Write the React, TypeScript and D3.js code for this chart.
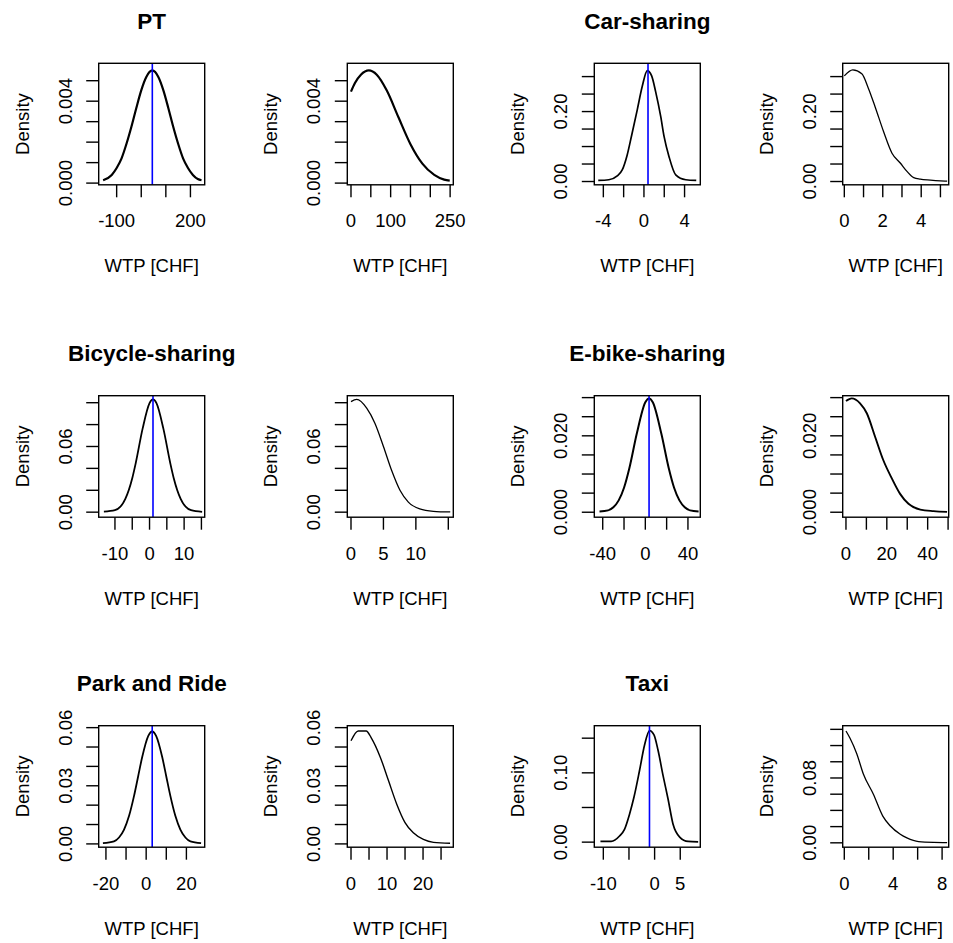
import React from "react";
import * as d3 from "d3";

// ---------- titles ----------
const modeTitles = ["PT", "Car-sharing", "Bicycle-sharing", "E-bike-sharing", "Park and Ride", "Taxi"];
const xAxisTitle = "WTP [CHF]";
const yAxisTitle = "Density";

// ---------- PT ----------
const ptNormX = [-155, -120, -100, -80, -60, -40, -20, 0, 20, 45, 70, 90, 110, 130, 150, 170, 190, 210, 230, 245];
const ptNormY = [0.00014, 0.0004, 0.00074, 0.00121, 0.00192, 0.00275, 0.00367, 0.00453, 0.00517, 0.0055, 0.00517, 0.00453, 0.00367, 0.00275, 0.00192, 0.00121, 0.00074, 0.0004, 0.0002, 0.00014];
const ptPosX = [0, 10, 25, 45, 65, 90, 120, 150, 180, 210, 235, 249];
const ptPosY = [0.00447, 0.00489, 0.00529, 0.0055, 0.00529, 0.00453, 0.0032, 0.0019, 0.00095, 0.0004, 0.00017, 0.00012];
const ptMean = 45;

// ---------- Car-sharing ----------
const carNormX = [-4.5, -3.46, -2.63, -2.14, -1.65, -1.22, -0.66, -0.16, 0.33, 0.76, 1.15, 1.65, 1.98, 2.47, 3.13, 4.12, 5.15];
const carNormY = [0.003, 0.005, 0.016, 0.033, 0.076, 0.131, 0.205, 0.273, 0.317, 0.302, 0.257, 0.186, 0.129, 0.071, 0.019, 0.005, 0.003];
const carPosX = [0, 0.44, 0.91, 1.25, 1.6, 2.04, 2.48, 2.91, 3.26, 3.61, 3.95, 4.48, 5.0, 5.35];
const carPosY = [0.302, 0.319, 0.308, 0.267, 0.214, 0.143, 0.081, 0.053, 0.029, 0.011, 0.0066, 0.004, 0.002, 0.001];
const carMean = 0.4;

// ---------- Bicycle-sharing ----------
const bikeNormX = [-13.2, -10, -7, -5, -4, -2, 0, 1, 2, 4, 6, 7, 9, 12, 15.2];
const bikeNormY = [0.0005, 0.0018, 0.0121, 0.031, 0.0447, 0.0763, 0.0996, 0.103, 0.0996, 0.0763, 0.0447, 0.031, 0.0121, 0.0018, 0.0003];
const bikePosX = [0, 0.88, 2.42, 3.7, 5.0, 6.27, 7.55, 8.84, 10.6, 12.7, 15.3];
const bikePosY = [0.101, 0.103, 0.095, 0.081, 0.06, 0.038, 0.02, 0.0092, 0.003, 0.0008, 0.0002];
const bikeMean = 1.0;

// ---------- E-bike-sharing ----------
const ebikeNormX = [-43, -35, -30, -25, -20, -15, -8, 0, 3.5, 7, 15, 22, 27, 32, 37, 42, 50];
const ebikeNormY = [0.0002, 0.00048, 0.0013, 0.0031, 0.0064, 0.0115, 0.0206, 0.0288, 0.0298, 0.0288, 0.0206, 0.0115, 0.0064, 0.0031, 0.0013, 0.00048, 0.0002];
const ebikePosX = [0, 2.8, 6.9, 10.2, 14.3, 18.3, 22.5, 26.5, 30.6, 36.4, 42.9, 49.5];
const ebikePosY = [0.0291, 0.0298, 0.0285, 0.0259, 0.0197, 0.0136, 0.0088, 0.0048, 0.0022, 0.0007, 0.0003, 0.0001];
const ebikeMean = 3.5;

// ---------- Park and Ride ----------
const prNormX = [-21.5, -16, -13.5, -11, -8.5, -6, -4, -2, 1, 3, 5, 8, 10, 12, 14.5, 17, 19.5, 22, 27.3];
const prNormY = [0.0004, 0.0013, 0.0033, 0.0074, 0.0145, 0.0249, 0.0348, 0.0447, 0.0556, 0.058, 0.0556, 0.0447, 0.0348, 0.0249, 0.0145, 0.0074, 0.0033, 0.0013, 0.0004];
const prPosX = [0, 2.0, 4.2, 5.7, 8.1, 10.4, 12.7, 15, 17.3, 20.1, 22.9, 27.5];
const prPosY = [0.0532, 0.0583, 0.0583, 0.0545, 0.0449, 0.0327, 0.0205, 0.011, 0.0057, 0.0023, 0.0008, 0.0003];
const prMean = 3;

// ---------- Taxi ----------
const taxiNormX = [-10.56, -8.47, -6.84, -5.87, -4.89, -4.03, -2.93, -1.96, -0.98, -0.12, 0.66, 1.64, 2.62, 3.6, 4.89, 6.53, 8.49];
const taxiNormY = [0.001, 0.001, 0.0088, 0.0185, 0.0404, 0.0647, 0.1037, 0.1402, 0.161, 0.1548, 0.1329, 0.0964, 0.0623, 0.0258, 0.0073, 0.001, 0.0005];
const taxiPosX = [0.14, 0.47, 1.02, 1.56, 2.38, 3.15, 3.75, 4.58, 5.12, 6.08, 7.3, 8.41];
const taxiPosY = [0.138, 0.129, 0.11, 0.085, 0.06, 0.033, 0.021, 0.0105, 0.006, 0.0014, 0.0005, 0.0003];
const taxiMean = -1.0;

// ---------- axis ranges & ticks ----------
const ptYTicks = [0, 0.001, 0.002, 0.003, 0.004, 0.005];
const ptYLabels = ["0.000", "", "", "", "0.004", ""];
const ptNormXTicks = [-100, 0, 100, 200];
const ptNormXLabels = ["-100", "", "", "200"];
const ptPosXTicks = [0, 50, 100, 150, 200, 250];
const ptPosXLabels = ["0", "", "100", "", "", "250"];

const carYTicks = [0, 0.05, 0.1, 0.15, 0.2, 0.25, 0.3];
const carYLabels = ["0.00", "", "", "", "0.20", "", ""];
const carNormXTicks = [-4, -2, 0, 2, 4];
const carNormXLabels = ["-4", "", "0", "", "4"];
const carPosXTicks = [0, 1, 2, 3, 4, 5];
const carPosXLabels = ["0", "", "2", "", "4", ""];

const bikeYTicks = [0, 0.02, 0.04, 0.06, 0.08, 0.1];
const bikeYLabels = ["0.00", "", "", "0.06", "", ""];
const bikeNormXTicks = [-10, -5, 0, 5, 10, 15];
const bikeNormXLabels = ["-10", "", "0", "", "10", ""];
const bikePosXTicks = [0, 5, 10, 15];
const bikePosXLabels = ["0", "5", "10", ""];

const ebikeYTicks = [0, 0.005, 0.01, 0.015, 0.02, 0.025, 0.03];
const ebikeYLabels = ["0.000", "", "", "", "0.020", "", ""];
const ebikeNormXTicks = [-40, -20, 0, 20, 40];
const ebikeNormXLabels = ["-40", "", "0", "", "40"];
const ebikePosXTicks = [0, 10, 20, 30, 40, 50];
const ebikePosXLabels = ["0", "", "20", "", "40", ""];

const prYTicks = [0, 0.01, 0.02, 0.03, 0.04, 0.05, 0.06];
const prYLabels = ["0.00", "", "", "0.03", "", "", "0.06"];
const prNormXTicks = [-20, -10, 0, 10, 20];
const prNormXLabels = ["-20", "", "0", "", "20"];
const prPosXTicks = [0, 5, 10, 15, 20, 25];
const prPosXLabels = ["0", "", "10", "", "20", ""];

const taxiNormYTicks = [0, 0.05, 0.1, 0.15];
const taxiNormYLabels = ["0.00", "", "0.10", ""];
const taxiPosYTicks = [0, 0.02, 0.04, 0.06, 0.08, 0.1, 0.12, 0.14];
const taxiPosYLabels = ["0.00", "", "", "", "0.08", "", "", ""];
const taxiNormXTicks = [-10, -5, 0, 5];
const taxiNormXLabels = ["-10", "", "0", "5"];
const taxiPosXTicks = [0, 2, 4, 6, 8];
const taxiPosXLabels = ["0", "", "4", "", "8"];

// plotted ranges (R usr)
const ptNormXRange = [-173, 258];
const ptPosXRange = [-9.3, 258];
const ptYRange = [-0.000083, 0.00585];
const carNormXRange = [-4.89, 5.55];
const carPosXRange = [-0.084, 5.43];
const carYRange = [-0.0094, 0.338];
const bikeNormXRange = [-14.7, 15.95];
const bikePosXRange = [-0.57, 15.77];
const bikeYRange = [-0.0046, 0.1064];
const ebikeNormXRange = [-47.9, 51.6];
const ebikePosXRange = [-1.6, 50.3];
const ebikeYRange = [-0.0013, 0.0305];
const prNormXRange = [-23.6, 29.1];
const prPosXRange = [-1.03, 28.4];
const prYRange = [-0.0017, 0.061];
const taxiNormXRange = [-11.76, 8.91];
const taxiPosXRange = [-0.13, 8.54];
const taxiNormYRange = [-0.0073, 0.168];
const taxiPosYRange = [-0.0054, 0.1445];

type PanelSpec = {
  xs: number[]; ys: number[];
  xRange: number[]; yRange: number[];
  xTicks: number[]; xLabels: string[];
  yTicks: number[]; yLabels: string[];
  mean?: number; title?: string; lw: number;
};

const panels: PanelSpec[] = [
  { xs: ptNormX, ys: ptNormY, xRange: ptNormXRange, yRange: ptYRange, xTicks: ptNormXTicks, xLabels: ptNormXLabels, yTicks: ptYTicks, yLabels: ptYLabels, mean: ptMean, title: modeTitles[0], lw: 2.2 },
  { xs: ptPosX, ys: ptPosY, xRange: ptPosXRange, yRange: ptYRange, xTicks: ptPosXTicks, xLabels: ptPosXLabels, yTicks: ptYTicks, yLabels: ptYLabels, lw: 2.2 },
  { xs: carNormX, ys: carNormY, xRange: carNormXRange, yRange: carYRange, xTicks: carNormXTicks, xLabels: carNormXLabels, yTicks: carYTicks, yLabels: carYLabels, mean: carMean, title: modeTitles[1], lw: 1.7 },
  { xs: carPosX, ys: carPosY, xRange: carPosXRange, yRange: carYRange, xTicks: carPosXTicks, xLabels: carPosXLabels, yTicks: carYTicks, yLabels: carYLabels, lw: 1.3 },
  { xs: bikeNormX, ys: bikeNormY, xRange: bikeNormXRange, yRange: bikeYRange, xTicks: bikeNormXTicks, xLabels: bikeNormXLabels, yTicks: bikeYTicks, yLabels: bikeYLabels, mean: bikeMean, title: modeTitles[2], lw: 1.8 },
  { xs: bikePosX, ys: bikePosY, xRange: bikePosXRange, yRange: bikeYRange, xTicks: bikePosXTicks, xLabels: bikePosXLabels, yTicks: bikeYTicks, yLabels: bikeYLabels, lw: 1.3 },
  { xs: ebikeNormX, ys: ebikeNormY, xRange: ebikeNormXRange, yRange: ebikeYRange, xTicks: ebikeNormXTicks, xLabels: ebikeNormXLabels, yTicks: ebikeYTicks, yLabels: ebikeYLabels, mean: ebikeMean, title: modeTitles[3], lw: 2.0 },
  { xs: ebikePosX, ys: ebikePosY, xRange: ebikePosXRange, yRange: ebikeYRange, xTicks: ebikePosXTicks, xLabels: ebikePosXLabels, yTicks: ebikeYTicks, yLabels: ebikeYLabels, lw: 1.9 },
  { xs: prNormX, ys: prNormY, xRange: prNormXRange, yRange: prYRange, xTicks: prNormXTicks, xLabels: prNormXLabels, yTicks: prYTicks, yLabels: prYLabels, mean: prMean, title: modeTitles[4], lw: 1.8 },
  { xs: prPosX, ys: prPosY, xRange: prPosXRange, yRange: prYRange, xTicks: prPosXTicks, xLabels: prPosXLabels, yTicks: prYTicks, yLabels: prYLabels, lw: 1.4 },
  { xs: taxiNormX, ys: taxiNormY, xRange: taxiNormXRange, yRange: taxiNormYRange, xTicks: taxiNormXTicks, xLabels: taxiNormXLabels, yTicks: taxiNormYTicks, yLabels: taxiNormYLabels, mean: taxiMean, title: modeTitles[5], lw: 1.7 },
  { xs: taxiPosX, ys: taxiPosY, xRange: taxiPosXRange, yRange: taxiPosYRange, xTicks: taxiPosXTicks, xLabels: taxiPosXLabels, yTicks: taxiPosYTicks, yLabels: taxiPosYLabels, lw: 1.3 },
];

// ---------- layout ----------
const W = 953, H = 943;
const colLeft = [98.7, 347.3, 594.3, 842.7];
const rowTop = [63.3, 395.7, 725.7];
const boxW = 106;
const boxH = 121.5;
const FONT = "'Liberation Sans', Arial, sans-serif";
const fs = 18.5;
const titleFs = 22.5;
const tickLen = 12.5;

function Panel({ p, left, top }: { p: PanelSpec; left: number; top: number }) {
  const x = d3.scaleLinear().domain(p.xRange).range([left, left + boxW]);
  const y = d3.scaleLinear().domain(p.yRange).range([top + boxH, top]);
  const pts: [number, number][] = p.xs.map((v, i) => [v, p.ys[i]]);
  const line = d3
    .line<[number, number]>()
    .x((d) => x(d[0]))
    .y((d) => y(d[1]))
    .curve(d3.curveMonotoneX);
  const bottom = top + boxH;
  const cx = left + boxW / 2;
  const cy = top + boxH / 2;
  const clipId = `clip-${Math.round(left)}-${Math.round(top)}`;
  return (
    <g>
      <defs>
        <clipPath id={clipId}>
          <rect x={left} y={top} width={boxW} height={boxH} />
        </clipPath>
      </defs>
      {p.title && (
        <text x={cx} y={top - 34.5} textAnchor="middle" fontSize={titleFs} fontWeight="bold" fontFamily={FONT} fill="#000">
          {p.title}
        </text>
      )}
      <g clipPath={`url(#${clipId})`}>
        <path d={line(pts) || ""} fill="none" stroke="#000" strokeWidth={p.lw} strokeLinejoin="round" />
        {p.mean !== undefined && (
          <line x1={x(p.mean)} x2={x(p.mean)} y1={top} y2={bottom} stroke="#0000ff" strokeWidth={1.6} />
        )}
      </g>
      <rect x={left} y={top} width={boxW} height={boxH} fill="none" stroke="#000" strokeWidth={1.4} />
      {p.xTicks.map((t, i) => (
        <g key={"xt" + i}>
          <line x1={x(t)} x2={x(t)} y1={bottom} y2={bottom + tickLen} stroke="#000" strokeWidth={1.4} />
          {p.xLabels[i] && (
            <text x={x(t)} y={bottom + 42.5} textAnchor="middle" fontSize={fs} fontFamily={FONT} fill="#000">
              {p.xLabels[i]}
            </text>
          )}
        </g>
      ))}
      {p.yTicks.map((t, i) => (
        <g key={"yt" + i}>
          <line x1={left - tickLen} x2={left} y1={y(t)} y2={y(t)} stroke="#000" strokeWidth={1.4} />
          {p.yLabels[i] && (
            <text
              transform={`translate(${left - 27},${y(t)}) rotate(-90)`}
              textAnchor="middle"
              fontSize={fs}
              fontFamily={FONT}
              fill="#000"
            >
              {p.yLabels[i]}
            </text>
          )}
        </g>
      ))}
      <text x={cx} y={bottom + 87.5} textAnchor="middle" fontSize={fs} fontFamily={FONT} fill="#000">
        {xAxisTitle}
      </text>
      <text transform={`translate(${left - 70},${cy}) rotate(-90)`} textAnchor="middle" fontSize={fs} fontFamily={FONT} fill="#000">
        {yAxisTitle}
      </text>
    </g>
  );
}

export default function App() {
  return (
    <svg
      width={W}
      height={H}
      viewBox={`0 0 ${W} ${H}`}
      style={{ position: "absolute", left: 0, top: 0, background: "#fff" }}
    >
      <rect x={0} y={0} width={W} height={H} fill="#fff" />
      {panels.map((p, i) => (
        <Panel key={i} p={p} left={colLeft[i % 4]} top={rowTop[Math.floor(i / 4)]} />
      ))}
    </svg>
  );
}
